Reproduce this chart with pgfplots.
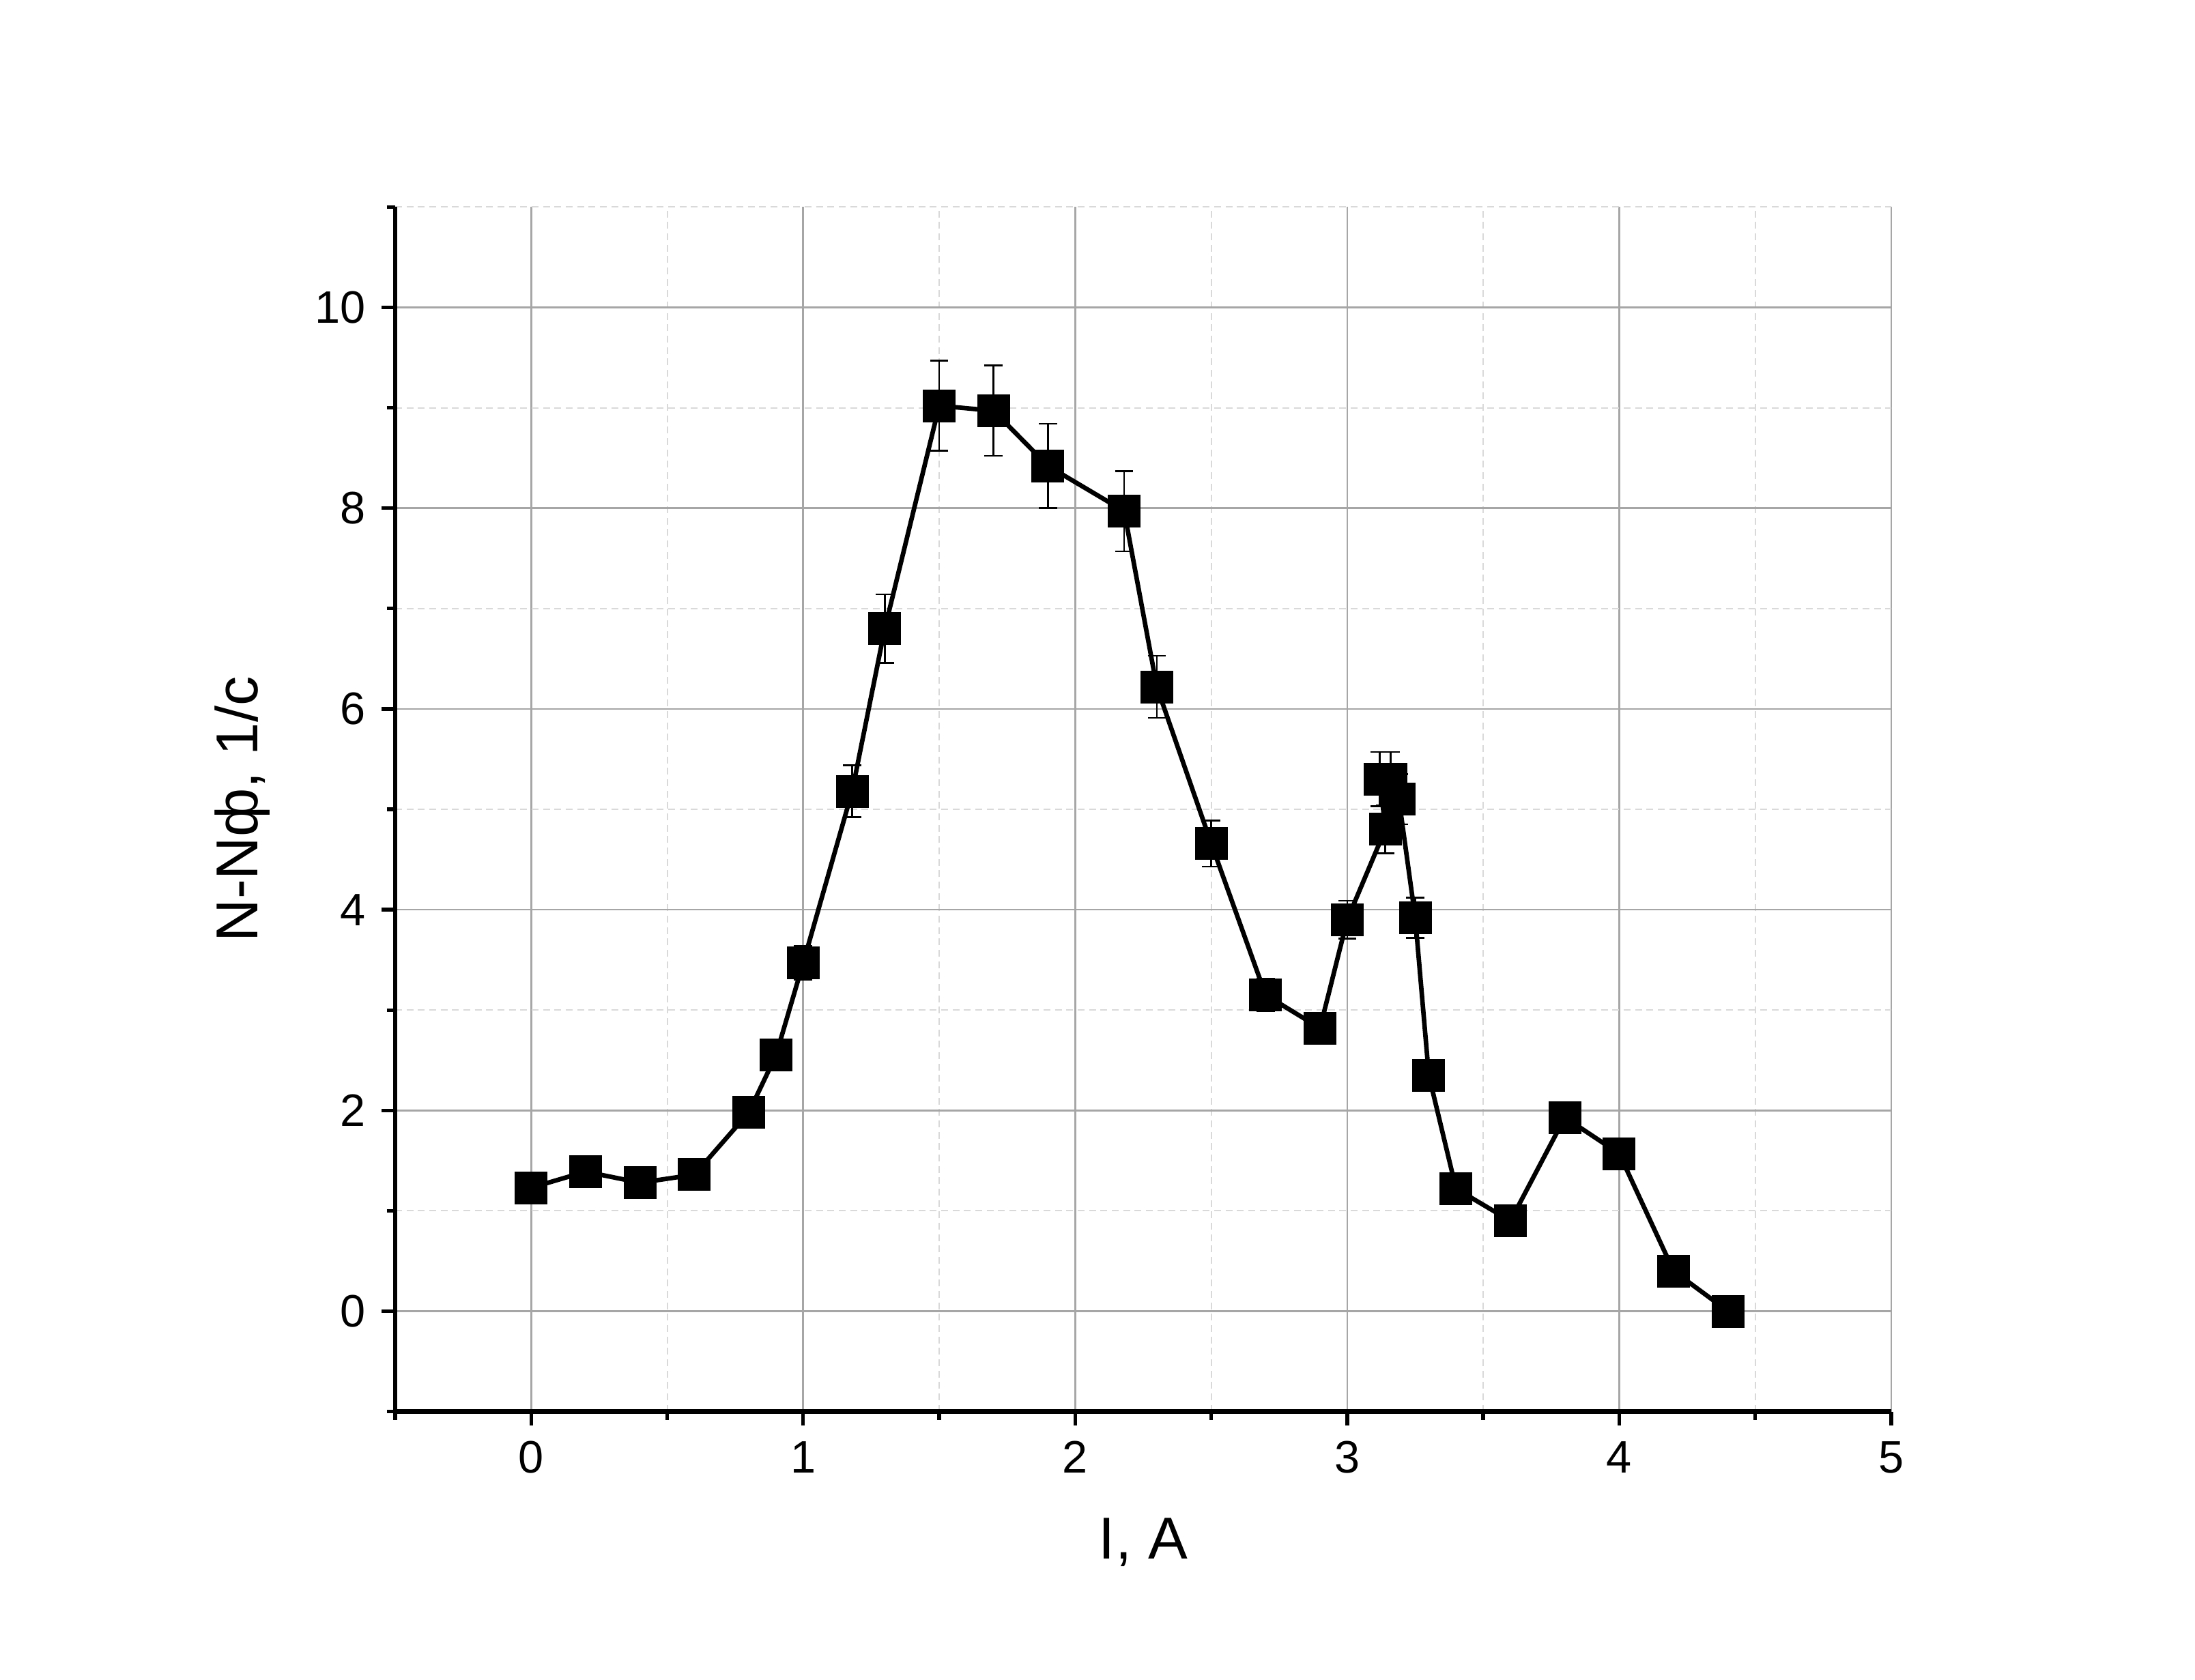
\documentclass[border=0pt]{standalone}
\usepackage{pgfplots}
\pgfplotsset{compat=1.18}
\usepackage{fontspec}
\setmainfont{Liberation Sans}
\begin{document}
\begin{tikzpicture}
\useasboundingbox (-86.85pt,-59pt) rectangle (395.55pt,310.3pt);
\begin{axis}[at={(0,0)},anchor=south west,scale only axis,width=328.8pt,height=264.8pt,
 xmin=-0.5,xmax=5,ymin=-1,ymax=11,
 axis lines*=left, axis line style={line width=1pt,-},
 xtick={0,1,2,3,4,5}, ytick={0,2,4,6,8,10},
 minor xtick={-0.5,0.5,1.5,2.5,3.5,4.5}, minor ytick={-1,1,3,5,7,9,11},
 tick align=outside, major tick length=3pt, minor tick length=1.8pt,
 tick style={black,line width=0.8pt},
 grid=both, major grid style={gray!70,line width=0.4pt}, minor grid style={gray!30,dash pattern=on 1.5pt off 1pt,line width=0.3pt},
 ticklabel style={font=\fontsize{10}{12}\selectfont},
 /pgf/number format/assume math mode=true,
 xlabel={I, A}, ylabel={N-Nф, 1/c},
 label style={font=\fontsize{13}{15}\selectfont},
 xlabel style={yshift=-3pt}, ylabel style={yshift=3pt},
]
\addplot[black,line width=1pt,mark=square*,mark size=3.1pt,
 error bars/.cd,y dir=both,y explicit,error bar style={line width=0.4pt},error mark options={rotate=90,mark size=2pt,line width=0.4pt}]
 coordinates {
 (0,1.23) +- (0,0.06)
 (0.2,1.39) +- (0,0.07)
 (0.4,1.28) +- (0,0.06)
 (0.6,1.36) +- (0,0.07)
 (0.8,1.98) +- (0,0.1)
 (0.9,2.55) +- (0,0.13)
 (1.0,3.47) +- (0,0.17)
 (1.18,5.18) +- (0,0.26)
 (1.3,6.8) +- (0,0.34)
 (1.5,9.02) +- (0,0.45)
 (1.7,8.97) +- (0,0.45)
 (1.9,8.42) +- (0,0.42)
 (2.18,7.97) +- (0,0.4)
 (2.3,6.22) +- (0,0.31)
 (2.5,4.66) +- (0,0.23)
 (2.7,3.15) +- (0,0.16)
 (2.9,2.82) +- (0,0.14)
 (3.0,3.9) +- (0,0.19)
 (3.14,4.8) +- (0,0.24)
 (3.12,5.3) +- (0,0.27)
 (3.16,5.3) +- (0,0.27)
 (3.19,5.1) +- (0,0.25)
 (3.25,3.92) +- (0,0.2)
 (3.3,2.35) +- (0,0.12)
 (3.4,1.22) +- (0,0.06)
 (3.6,0.9) +- (0,0.05)
 (3.8,1.93) +- (0,0.1)
 (4.0,1.57) +- (0,0.08)
 (4.2,0.4) +- (0,0.02)
 (4.4,0.0) +- (0,0.0)
 };
\end{axis}
\end{tikzpicture}
\end{document}
